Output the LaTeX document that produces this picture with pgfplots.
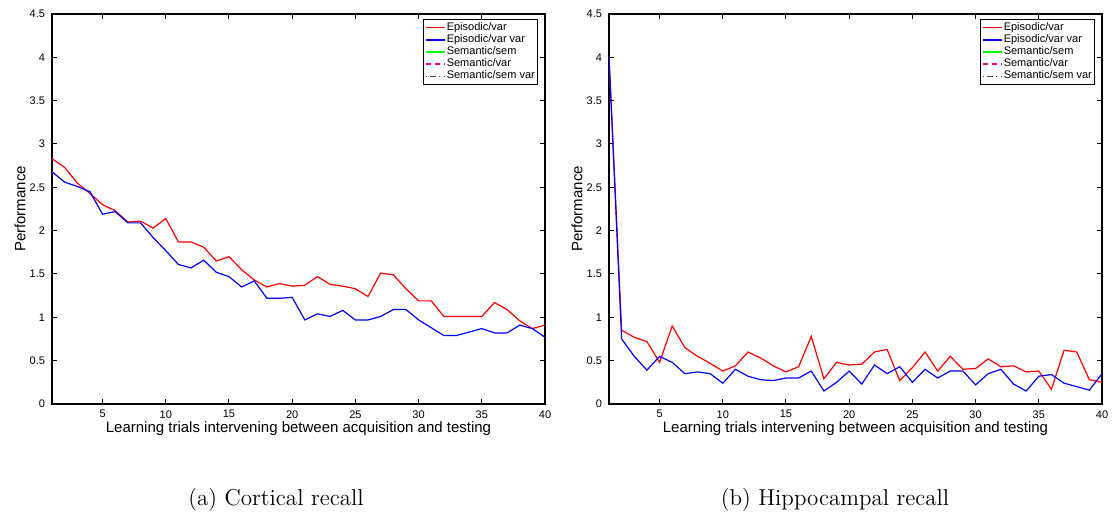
\documentclass[border=0pt]{standalone}
\usepackage{pgfplots}
\usepackage{pgfplotstable}
\usepackage{fontspec}
\pgfplotsset{compat=1.18}
\newfontfamily\axfont{Liberation Sans}

% cortical recall
\pgfplotstableread{
x epi epivar
1 2.83 2.68
2 2.73 2.56
3 2.55 2.51
4 2.43 2.45
5 2.30 2.19
6 2.23 2.22
7 2.10 2.09
8 2.11 2.09
9 2.03 1.92
10 2.14 1.77
11 1.87 1.61
12 1.87 1.57
13 1.81 1.66
14 1.65 1.52
15 1.70 1.47
16 1.55 1.35
17 1.43 1.42
18 1.35 1.22
19 1.39 1.22
20 1.36 1.23
21 1.37 0.97
22 1.47 1.04
23 1.38 1.01
24 1.36 1.08
25 1.33 0.97
26 1.24 0.97
27 1.51 1.01
28 1.49 1.09
29 1.33 1.09
30 1.19 0.97
31 1.19 0.88
32 1.01 0.79
33 1.01 0.79
34 1.01 0.83
35 1.01 0.87
36 1.17 0.82
37 1.09 0.82
38 0.96 0.91
39 0.87 0.87
40 0.91 0.77
}\cortical

% hippocampal recall
\pgfplotstableread{
x epi epivar
1 4.01 4.01
2 0.85 0.75
3 0.77 0.55
4 0.72 0.39
5 0.48 0.55
6 0.90 0.48
7 0.65 0.35
8 0.55 0.37
9 0.47 0.35
10 0.38 0.24
11 0.44 0.40
12 0.60 0.32
13 0.53 0.28
14 0.44 0.27
15 0.37 0.30
16 0.43 0.30
17 0.78 0.38
18 0.29 0.15
19 0.48 0.25
20 0.45 0.38
21 0.46 0.23
22 0.60 0.45
23 0.63 0.35
24 0.27 0.43
25 0.42 0.25
26 0.60 0.40
27 0.38 0.30
28 0.55 0.38
29 0.40 0.38
30 0.41 0.22
31 0.52 0.35
32 0.43 0.40
33 0.44 0.23
34 0.37 0.15
35 0.38 0.32
36 0.17 0.34
37 0.62 0.24
38 0.60 0.20
39 0.28 0.16
40 0.25 0.35
}\hippocampal

\pgfplotsset{
  matlab/.style={
    scale only axis,
    width=246.5pt, height=195pt,
    xmin=1, xmax=40, ymin=0, ymax=4.5,
    xtick={5,10,...,40},
    ytick={0,0.5,1,1.5,2,2.5,3,3.5,4,4.5},
    tick pos=both,
    tick align=inside,
    major tick length=2.5pt,
    tick style={black, line width=0.5pt},
    axis line style={black, line width=0.6pt},
    /pgf/number format/assume math mode=true,
    ticklabel style={font=\axfont\fontsize{5.5}{6.5}\selectfont},
    xticklabel style={inner sep=0.5pt, yshift=-2.5pt},
    label style={font=\axfont\fontsize{7.5}{9}\selectfont},
    xlabel={Learning trials intervening between acquisition and testing},
    ylabel={Performance},
    xlabel style={at={(axis description cs:0.5,0)}, anchor=north, inner sep=0pt, yshift=-8.5pt},
    ylabel style={at={(axis description cs:0,0.5)}, anchor=center, inner sep=0pt, yshift=16pt},
    legend style={at={(axis description cs:1,1)}, anchor=north east,
      xshift=-3.5pt, yshift=-2.5pt,
      font=\axfont\fontsize{5.5}{6}\selectfont,
      inner sep=0.8pt, row sep=-0.6pt,
      nodes={inner sep=0.6pt}},
    legend cell align=left,
    legend image post style={xscale=0.56, line width=0.8pt},
  },
  epired/.style={draw=red, line width=0.6pt},
  epiblue/.style={draw=blue, line width=0.6pt},
}

\begin{document}
\begin{tikzpicture}
\path[use as bounding box] (-26pt,-59pt) rectangle (530.5pt,202pt);

\begin{axis}[matlab, at={(0pt,0pt)}, anchor=south west]
\addplot[epired] table[x=x, y=epi] {\cortical};
\addlegendentry{Episodic/var}
\addplot[epiblue] table[x=x, y=epivar] {\cortical};
\addlegendentry{Episodic/var var}
\addlegendimage{draw=green}
\addlegendentry{Semantic/sem}
\addlegendimage{draw=magenta, dash pattern=on 2.5pt off 2pt}
\addlegendentry{Semantic/var}
\addlegendimage{draw=black!70, dash pattern=on 0.4pt off 2pt on 2.5pt off 2pt}
\addlegendentry{Semantic/sem var}
\end{axis}

\begin{axis}[matlab, at={(278.5pt,0pt)}, anchor=south west]
\addplot[epired] table[x=x, y=epi] {\hippocampal};
\addlegendentry{Episodic/var}
\addplot[epiblue] table[x=x, y=epivar] {\hippocampal};
\addlegendentry{Episodic/var var}
\addlegendimage{draw=green}
\addlegendentry{Semantic/sem}
\addlegendimage{draw=magenta, dash pattern=on 2.5pt off 2pt}
\addlegendentry{Semantic/var}
\addlegendimage{draw=black!70, dash pattern=on 0.4pt off 2pt on 2.5pt off 2pt}
\addlegendentry{Semantic/sem var}
\end{axis}

\node[font=\fontsize{11.5}{14}\selectfont] at (112pt,-48pt) {(a) Cortical recall};
\node[font=\fontsize{11.5}{14}\selectfont] at (391.5pt,-48pt) {(b) Hippocampal recall};
\end{tikzpicture}
\end{document}
